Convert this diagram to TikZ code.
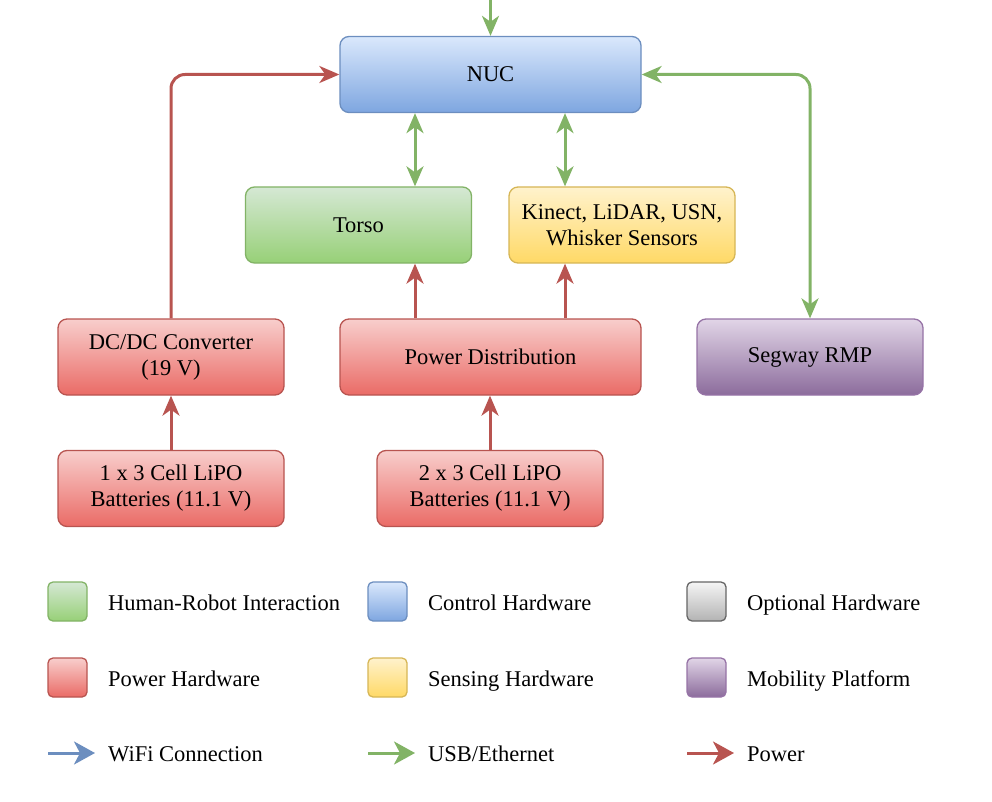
\documentclass[tikz,border=0pt]{standalone}
\usepackage{fontspec}
\setmainfont{Liberation Serif}
\usetikzlibrary{arrows.meta}

\definecolor{hriline}{HTML}{82B366}
\definecolor{hritop}{HTML}{D5E8D4}
\definecolor{hribot}{HTML}{97D077}
\definecolor{ctrlline}{HTML}{6C8EBF}
\definecolor{ctrltop}{HTML}{DAE8FC}
\definecolor{ctrlbot}{HTML}{7EA6E0}
\definecolor{pwrline}{HTML}{B85450}
\definecolor{pwrtop}{HTML}{F8CECC}
\definecolor{pwrbot}{HTML}{EA6B66}
\definecolor{senseline}{HTML}{D6B656}
\definecolor{sensetop}{HTML}{FFF2CC}
\definecolor{sensebot}{HTML}{FFD966}
\definecolor{mobline}{HTML}{9673A6}
\definecolor{mobtop}{HTML}{E1D5E7}
\definecolor{mobbot}{HTML}{8C6C9C}
\definecolor{optline}{HTML}{666666}
\definecolor{opttop}{HTML}{F5F5F5}
\definecolor{optbot}{HTML}{B3B3B3}

\tikzset{
	hwbox/.style={line width=1.3pt, rounded corners=9pt, minimum width=226pt, minimum height=76pt,
		inner sep=0pt, align=center, font=\fontsize{22.5}{26}\selectfont},
	hri/.style={hwbox, draw=hriline, top color=hritop, bottom color=hribot},
	ctrl/.style={hwbox, draw=ctrlline, top color=ctrltop, bottom color=ctrlbot},
	pwr/.style={hwbox, draw=pwrline, top color=pwrtop, bottom color=pwrbot},
	sense/.style={hwbox, draw=senseline, top color=sensetop, bottom color=sensebot},
	mob/.style={hwbox, draw=mobline, top color=mobtop, bottom color=mobbot},
	keybox/.style={line width=1.3pt, rounded corners=5pt, minimum size=39pt, inner sep=0pt},
	keytext/.style={anchor=base west, inner sep=0pt, font=\fontsize{22.5}{26}\selectfont},
	tip/.tip={Stealth[length=20pt, width=17pt, inset=6pt]},
	keytip/.tip={Stealth[length=21pt, width=23pt, inset=6pt]},
	usb/.style={line width=3pt, draw=hriline, -tip},
	usb2/.style={line width=3pt, draw=hriline, tip-tip},
	power/.style={line width=3pt, draw=pwrline, -tip},
}

\begin{document}
\begin{tikzpicture}[x=1pt, y=-1pt]
		%%%%% START %%%%%
		\useasboundingbox (0, 0) rectangle (992, 802);
		
		% boxes
		\node[ctrl, minimum width=301pt] (nuc) at (490.5, 74.5) {NUC};
		\node[hri] (torso) at (358.5, 225) {Torso};
		\node[sense] (sensors) at (622, 225) {Kinect, LiDAR, USN,\\Whisker Sensors};
		\node[pwr] (dcdc) at (171, 357) {DC/DC Converter\\(19 V)};
		\node[pwr, minimum width=301pt] (pdist) at (490.5, 357) {Power Distribution};
		\node[mob] (segway) at (810, 357) {Segway RMP};
		\node[pwr] (lipoA) at (171, 488.5) {1 x 3 Cell LiPO\\Batteries (11.1 V)};
		\node[pwr] (lipoB) at (490, 488.5) {2 x 3 Cell LiPO\\Batteries (11.1 V)};
		
		\coordinate (topin) at (490.5, 0);
		\coordinate (xleft) at (415, 0);
		\coordinate (xright) at (565, 0);
		
		% data links
		\draw[usb] (topin) -- (nuc.north);
		\draw[usb2] (xleft |- nuc.south) -- (xleft |- torso.north);
		\draw[usb2] (xright |- nuc.south) -- (xright |- sensors.north);
		\draw[usb2, rounded corners=14pt] (nuc.east) -| (segway.north);
		
		% power links
		\draw[power, rounded corners=14pt] (dcdc.north) |- (nuc.west);
		\draw[power] (xleft |- pdist.north) -- (xleft |- torso.south);
		\draw[power] (xright |- pdist.north) -- (xright |- sensors.south);
		\draw[power] (lipoA.north) -- (dcdc.south);
		\draw[power] (lipoB.north) -- (lipoB.north |- pdist.south);
		
		% legend
		\node[keybox, draw=hriline, top color=hritop, bottom color=hribot] (keyhri) at (67.5, 601.5) {};
		\node[keytext] (txthri) at (108, 610) {Human-Robot Interaction};
		\node[keybox, draw=ctrlline, top color=ctrltop, bottom color=ctrlbot] (keyctrl) at (387.5, 601.5) {};
		\node[keytext] (txtctrl) at (428, 610) {Control Hardware};
		\node[keybox, draw=optline, top color=opttop, bottom color=optbot] (keyopt) at (706.5, 601.5) {};
		\node[keytext] (txtopt) at (747, 610) {Optional Hardware};
		
		\node[keybox, draw=pwrline, top color=pwrtop, bottom color=pwrbot] (keypwr) at (67.5, 677.5) {};
		\node[keytext] (txtpwr) at (108, 686) {Power Hardware};
		\node[keybox, draw=senseline, top color=sensetop, bottom color=sensebot] (keysense) at (387.5, 677.5) {};
		\node[keytext] (txtsense) at (428, 686) {Sensing Hardware};
		\node[keybox, draw=mobline, top color=mobtop, bottom color=mobbot] (keymob) at (706.5, 677.5) {};
		\node[keytext] (txtmob) at (747, 686) {Mobility Platform};
		
		\coordinate (wifiA) at (48, 753);
		\coordinate (wifiB) at (95, 753);
		\draw[line width=3pt, draw=ctrlline, -keytip] (wifiA) -- (wifiB);
		\node[keytext] (txtwifi) at (108, 761) {WiFi Connection};
		\coordinate (usbA) at (368, 753);
		\coordinate (usbB) at (415, 753);
		\draw[line width=3pt, draw=hriline, -keytip] (usbA) -- (usbB);
		\node[keytext] (txtusb) at (428, 761) {USB/Ethernet};
		\coordinate (pwrA) at (687, 753);
		\coordinate (pwrB) at (734, 753);
		\draw[line width=3pt, draw=pwrline, -keytip] (pwrA) -- (pwrB);
		\node[keytext] (txtpower) at (747, 761) {Power};
		
		%%%%% END %%%%%
	\end{tikzpicture}
\end{document}
